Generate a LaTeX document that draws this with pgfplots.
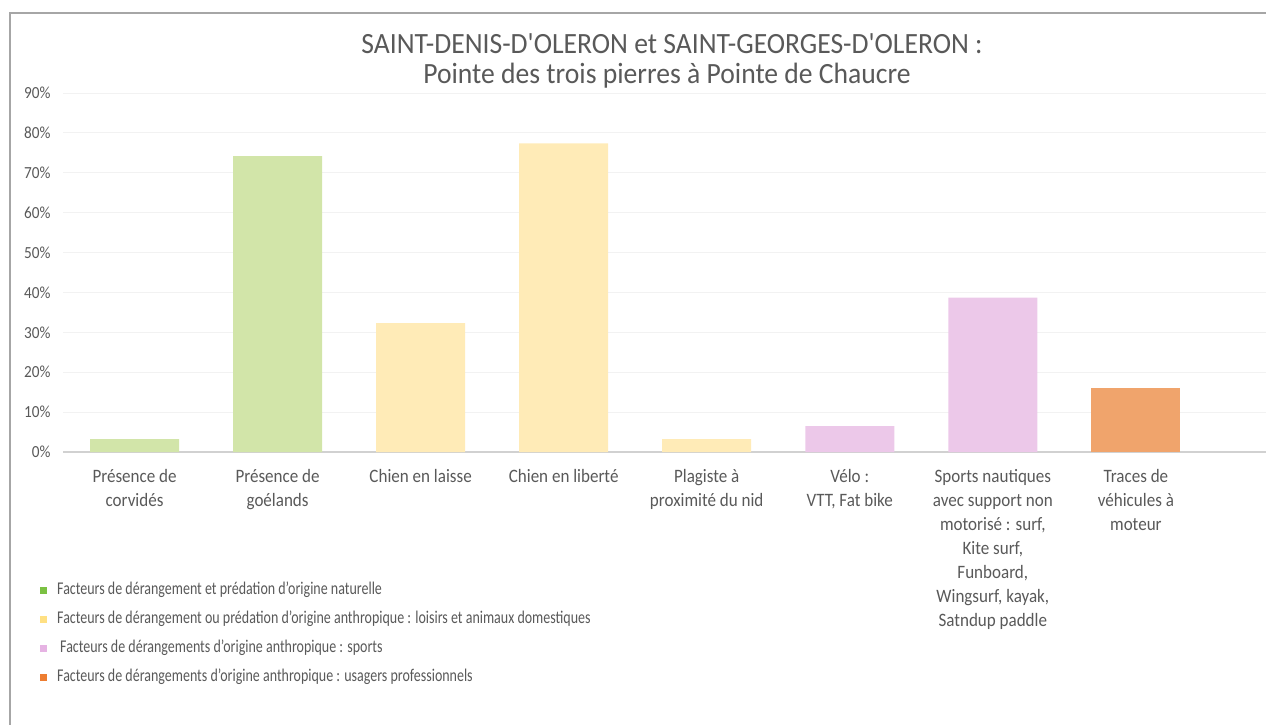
\documentclass[border=0pt]{standalone}
\usepackage{fontspec}
\setmainfont{Carlito}[FakeStretch=0.9]
\newfontfamily\titlefont{Carlito}[FakeStretch=0.94]
\newfontfamily\legfont{Carlito}[FakeStretch=0.78]
\usepackage{pgfplots}
\pgfplotsset{compat=1.18}

\definecolor{barGreen}{HTML}{D2E5A9}
\definecolor{barYellow}{HTML}{FFEBB7}
\definecolor{barPink}{HTML}{ECC8E9}
\definecolor{barOrange}{HTML}{F0A46C}
\definecolor{legGreen}{HTML}{7BC143}
\definecolor{legYellow}{HTML}{FFE083}
\definecolor{legPink}{HTML}{E6B3E3}
\definecolor{legOrange}{HTML}{ED7D31}
\definecolor{txtGray}{HTML}{595959}
\definecolor{gridGray}{HTML}{F2F2F2}
\definecolor{frameGray}{HTML}{A6A6A6}

\begin{document}
\begin{tikzpicture}[x=1bp,y=1bp]
\useasboundingbox (0,0) rectangle (1266,-725);
\draw[line width=2bp, frameGray] (10,-725) -- (10,-13) -- (1266,-13);

% title, two lines
\node[anchor=base, txtGray, font=\titlefont\fontsize{29.5}{32}\selectfont, inner sep=0pt] at (672,-54) {SAINT-DENIS-D'OLERON et SAINT-GEORGES-D'OLERON :};
\node[anchor=base, txtGray, font=\titlefont\fontsize{29.5}{32}\selectfont, inner sep=0pt] at (667,-84) {Pointe des trois pierres à Pointe de Chaucre};

\begin{axis}[
    at={(63bp,-452bp)}, anchor=south west,
    scale only axis, width=1203bp, height=359bp,
    ybar, bar width=89bp,
    xmin=-0.5, xmax=7.91,
    ymin=0, ymax=90,
    ytick={0,10,...,90},
    yticklabel={\pgfmathprintnumber{\tick}\%},
    /pgf/number format/assume math mode=true,
    yticklabel style={txtGray, font=\fontsize{17}{19}\selectfont, xshift=-9bp},
    xtick={0,...,7},
    xticklabels={{Présence de\\corvidés},{Présence de\\goélands},{Chien en laisse},{Chien en liberté},{Plagiste à\\proximité du nid},{Vélo :\\VTT, Fat bike},{Sports nautiques\\avec support non\\motorisé : surf,\\Kite surf,\\Funboard,\\Wingsurf, kayak,\\Satndup paddle},{Traces de\\véhicules à\\moteur}},
    xticklabel style={txtGray, align=center, font=\fontsize{19}{24}\selectfont, yshift=-14bp},
    major tick length=0pt,
    axis line style={draw=none},
    ymajorgrids, grid style={gridGray, line width=1bp},
    extra y ticks={0}, extra y tick labels={},
    extra y tick style={grid style={black!18, line width=2bp}},
    legend cell align=left,
    legend style={at={(axis description cs:-0.0191,-0.3593)}, anchor=north west,
        draw=none, fill=none, inner sep=0pt, row sep=11bp,
        font=\legfont\fontsize{18}{20}\selectfont, text=txtGray,
        nodes={text height=11bp, text depth=3bp, inner sep=2bp}},
]
\addplot[fill=barGreen, draw=none, bar shift=0pt,
    legend image code/.code={\fill[legGreen] (0bp,-3.5bp) rectangle (7bp,3.5bp);}]
    coordinates {(0,3.2) (1,74.2)};
\addlegendentry{\hspace{8bp}Facteurs de dérangement et prédation d’origine naturelle}
\addplot[fill=barYellow, draw=none, bar shift=0pt,
    legend image code/.code={\fill[legYellow] (0bp,-3.5bp) rectangle (7bp,3.5bp);}]
    coordinates {(2,32.3) (3,77.4) (4,3.2)};
\addlegendentry{\hspace{8bp}Facteurs de dérangement ou prédation d’origine anthropique : loisirs et animaux domestiques}
\addplot[fill=barPink, draw=none, bar shift=0pt,
    legend image code/.code={\fill[legPink] (0bp,-3.5bp) rectangle (7bp,3.5bp);}]
    coordinates {(5,6.5) (6,38.7)};
\addlegendentry{\hspace{11bp}Facteurs de dérangements d’origine anthropique : sports}
\addplot[fill=barOrange, draw=none, bar shift=0pt,
    legend image code/.code={\fill[legOrange] (0bp,-3.5bp) rectangle (7bp,3.5bp);}]
    coordinates {(7,16.1)};
\addlegendentry{\hspace{8bp}Facteurs de dérangements d’origine anthropique : usagers professionnels}
\end{axis}
\end{tikzpicture}
\end{document}
